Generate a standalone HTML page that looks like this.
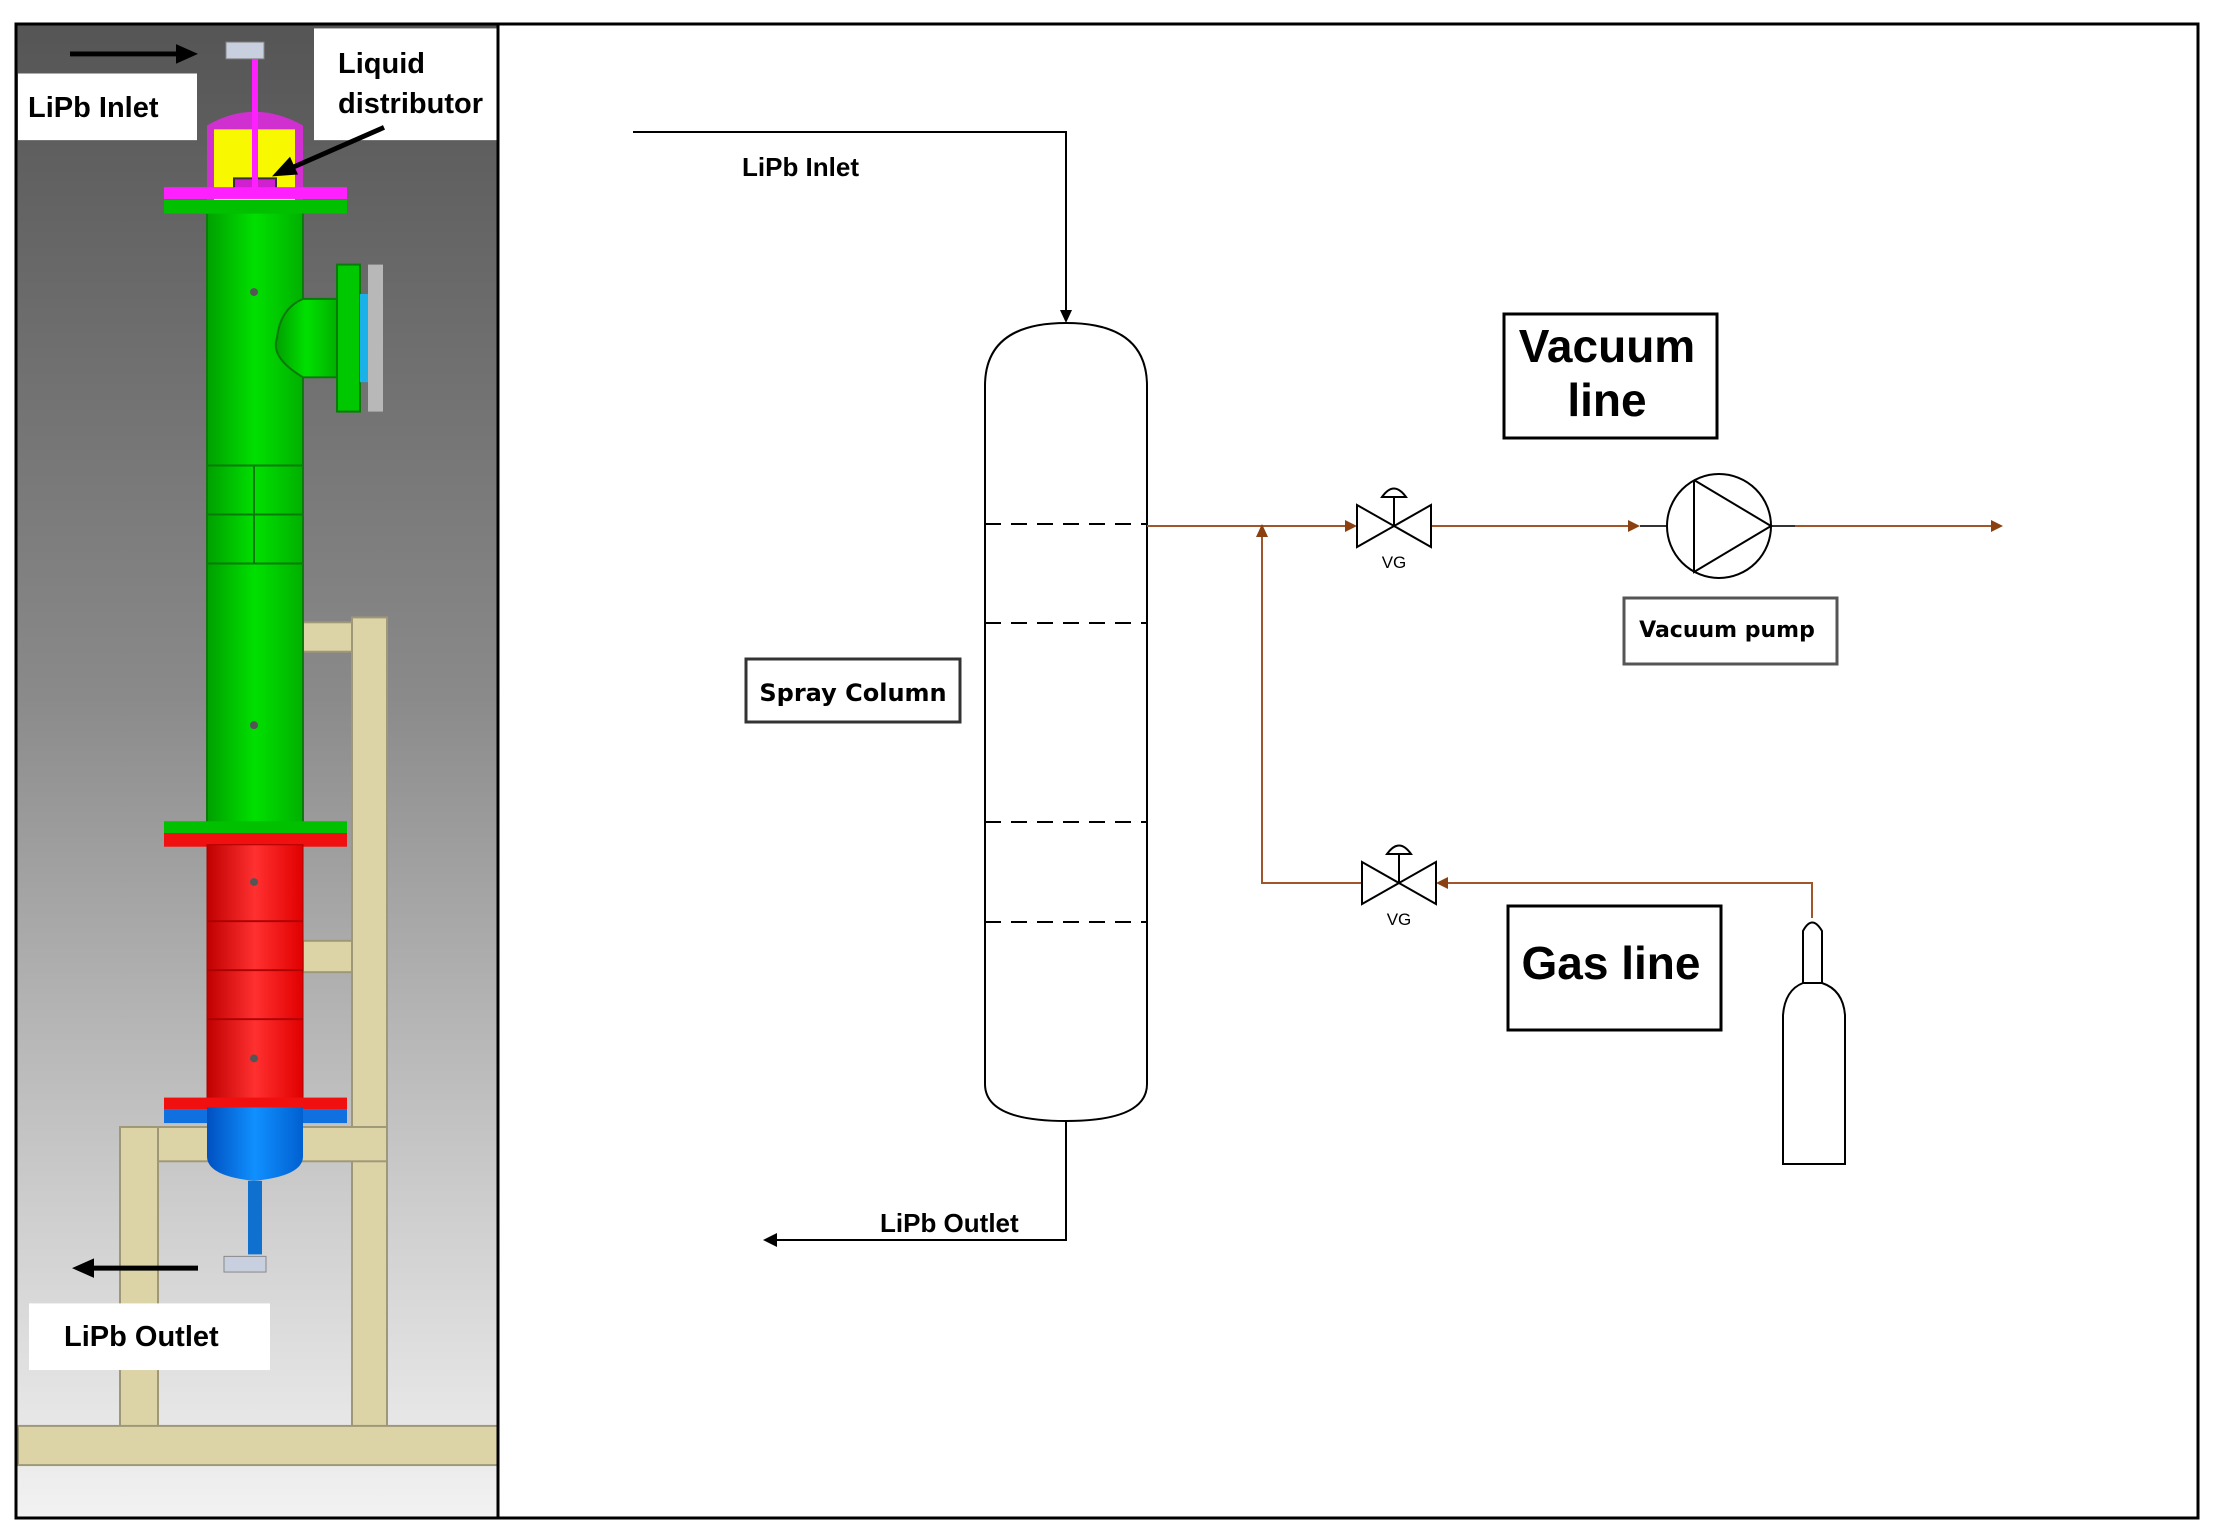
<!DOCTYPE html>
<html><head><meta charset="utf-8"><style>
html,body{margin:0;padding:0;background:#fff;width:2219px;height:1536px;overflow:hidden}
svg{display:block}
</style></head><body>
<svg width="2219" height="1536" viewBox="0 0 2219 1536" xmlns="http://www.w3.org/2000/svg">
<defs>
<linearGradient id="bg" x1="0" y1="0" x2="0" y2="1">
<stop offset="0" stop-color="#555"/><stop offset="0.45" stop-color="#8a8a8a"/><stop offset="0.8" stop-color="#cfcfcf"/><stop offset="1" stop-color="#f2f2f2"/></linearGradient>
<linearGradient id="gr" x1="0" y1="0" x2="1" y2="0"><stop offset="0" stop-color="#00a000"/><stop offset="0.5" stop-color="#00e000"/><stop offset="1" stop-color="#00b000"/></linearGradient>
<linearGradient id="rd" x1="0" y1="0" x2="1" y2="0"><stop offset="0" stop-color="#c00000"/><stop offset="0.5" stop-color="#ff3030"/><stop offset="1" stop-color="#e00000"/></linearGradient>
<linearGradient id="bl" x1="0" y1="0" x2="1" y2="0"><stop offset="0" stop-color="#0050c0"/><stop offset="0.5" stop-color="#1090ff"/><stop offset="1" stop-color="#0060d0"/></linearGradient>
</defs>
<rect x="16" y="24" width="482" height="1494" fill="url(#bg)"/>
<g transform="scale(1,0.98)">
<g fill="#dcd3a6" stroke="#9f9878" stroke-width="2">
<rect x="352" y="630" width="35" height="860"/>
<rect x="303" y="635" width="49" height="30"/>
<rect x="303" y="960" width="49" height="32"/>
<rect x="120" y="1150" width="267" height="35"/>
<rect x="120" y="1150" width="38" height="340"/>
<rect x="18" y="1455" width="480" height="40"/>
</g>
<rect x="207" y="215" width="96" height="635" fill="url(#gr)" stroke="#0a7a0a" stroke-width="2"/>
<line x1="207" y1="475" x2="303" y2="475" stroke="#0a7a0a" stroke-width="2"/>
<line x1="207" y1="525" x2="303" y2="525" stroke="#0a7a0a" stroke-width="2"/>
<line x1="207" y1="575" x2="303" y2="575" stroke="#0a7a0a" stroke-width="2"/>
<line x1="254" y1="475" x2="254" y2="575" stroke="#0a7a0a" stroke-width="2"/>
<circle cx="254" cy="298" r="4" fill="#555"/><circle cx="254" cy="740" r="4" fill="#555"/>
<path d="M303 305 H337 V385 H303 Q270 365 277 345 Q280 315 303 305Z" fill="url(#gr)" stroke="#0a7a0a" stroke-width="2"/>
<rect x="337" y="270" width="23" height="150" fill="#00c800" stroke="#0a7a0a" stroke-width="2"/>
<rect x="360" y="300" width="8" height="90" fill="#1ab0e8"/>
<rect x="368" y="270" width="15" height="150" fill="#b8b8b8"/>
<path d="M207 215 V128 Q254 100 303 128 V215Z" fill="#d030d0"/>
<rect x="214" y="132" width="81" height="83" fill="#f8f800"/>
<rect x="234" y="182" width="42" height="18" fill="#d020d0" stroke="#333" stroke-width="2"/>
<rect x="252" y="60" width="6" height="132" fill="#ff20ff"/>
<rect x="226" y="43" width="38" height="17" fill="#c8d0e0" stroke="#888"/>
<rect x="164" y="191" width="183" height="12" fill="#ff20ff"/>
<rect x="164" y="204" width="183" height="14" fill="#00c000"/>
<rect x="164" y="838" width="183" height="12" fill="#00c000"/>
<rect x="164" y="850" width="183" height="14" fill="#f01010"/>
<rect x="207" y="862" width="96" height="268" fill="url(#rd)" stroke="#a00" stroke-width="1"/>
<line x1="207" y1="940" x2="303" y2="940" stroke="#a00" stroke-width="2"/>
<line x1="207" y1="990" x2="303" y2="990" stroke="#a00" stroke-width="2"/>
<line x1="207" y1="1040" x2="303" y2="1040" stroke="#a00" stroke-width="2"/>
<circle cx="254" cy="900" r="4" fill="#555"/><circle cx="254" cy="1080" r="4" fill="#555"/>
<rect x="164" y="1120" width="183" height="12" fill="#f01010"/>
<rect x="164" y="1132" width="183" height="14" fill="#1070e0"/>
<path d="M207 1130 H303 V1180 Q303 1200 254 1205 Q207 1200 207 1180Z" fill="url(#bl)"/>
<rect x="248" y="1205" width="14" height="75" fill="#1070d0"/>
<rect x="224" y="1282" width="42" height="16" fill="#c8d0e0" stroke="#888"/>
<line x1="70" y1="55" x2="180" y2="55" stroke="#000" stroke-width="5"/>
<polygon points="176,45 198,55 176,65" fill="#000"/>
<rect x="18" y="75" width="179" height="68" fill="#fff"/>
<rect x="314" y="29" width="184" height="114" fill="#fff"/>
<line x1="384" y1="130" x2="290" y2="172" stroke="#000" stroke-width="5"/>
<polygon points="272,180 290,160 298,178" fill="#000"/>
<line x1="92" y1="1294" x2="198" y2="1294" stroke="#000" stroke-width="5"/>
<polygon points="72,1294 94,1284 94,1304" fill="#000"/>
<rect x="29" y="1330" width="241" height="68" fill="#fff"/>
</g>
<g font-family="Liberation Sans, sans-serif" font-weight="bold" font-size="29">
<text x="28" y="117">LiPb Inlet</text>
<text x="338" y="73">Liquid</text>
<text x="338" y="113">distributor</text>
<text x="64" y="1346">LiPb Outlet</text>
</g>
<rect x="16" y="24" width="2182" height="1494" fill="none" stroke="#000" stroke-width="3"/>
<line x1="498" y1="24" x2="498" y2="1518" stroke="#000" stroke-width="3"/>

<g font-family="Liberation Sans, sans-serif">
<polyline points="633,132 1066,132 1066,312" fill="none" stroke="#000" stroke-width="2"/>
<polygon points="1060,310 1072,310 1066,323" fill="#000"/>
<text x="742" y="176" font-size="26" font-weight="bold">LiPb Inlet</text>
<path d="M985 386 Q985 323 1066 323 Q1147 323 1147 386 V1084 Q1147 1121 1066 1121 Q985 1121 985 1084Z" fill="none" stroke="#000" stroke-width="2"/>
<g stroke="#000" stroke-width="2" stroke-dasharray="16,10">
<line x1="985" y1="524" x2="1147" y2="524"/>
<line x1="985" y1="623" x2="1147" y2="623"/>
<line x1="985" y1="822" x2="1147" y2="822"/>
<line x1="985" y1="922" x2="1147" y2="922"/>
</g>
<polyline points="1066,1121 1066,1240 776,1240" fill="none" stroke="#000" stroke-width="2"/>
<polygon points="763,1240 777,1233 777,1247" fill="#000"/>
<text x="880" y="1232" font-size="26" font-weight="bold">LiPb Outlet</text>
<rect x="746" y="659" width="214" height="63" fill="none" stroke="#333" stroke-width="3"/>
<text x="853" y="701" font-family="DejaVu Sans, sans-serif" font-size="24" font-weight="bold" text-anchor="middle">Spray Column</text>
<g stroke="#a0562a" stroke-width="2" fill="none">
<line x1="1147" y1="526" x2="1347" y2="526"/>
<line x1="1431" y1="526" x2="1628" y2="526"/>
<line x1="1795" y1="526" x2="2000" y2="526"/>
<polyline points="1262,536 1262,883 1362,883"/>
<polyline points="1446,883 1812,883 1812,918"/>
</g>
<g fill="#8a4010">
<polygon points="1357,526 1345,520 1345,532"/>
<polygon points="1640,526 1628,520 1628,532"/>
<polygon points="2003,526 1991,520 1991,532"/>
<polygon points="1262,524 1256,537 1268,537"/>
<polygon points="1436,883 1448,877 1448,889"/>
</g>
<g stroke="#000" stroke-width="2" fill="#fff">
<polygon points="1357,505 1431,547 1431,505 1357,547"/>
<line x1="1394" y1="526" x2="1394" y2="497"/>
<path d="M1382 497 Q1394 480 1406 497Z"/>
<polygon points="1362,862 1436,904 1436,862 1362,904"/>
<line x1="1399" y1="883" x2="1399" y2="854"/>
<path d="M1387 854 Q1399 837 1411 854Z"/>
</g>
<text x="1394" y="568" font-size="17" text-anchor="middle">VG</text>
<text x="1399" y="925" font-size="17" text-anchor="middle">VG</text>
<line x1="1640" y1="526" x2="1667" y2="526" stroke="#333" stroke-width="2"/>
<line x1="1771" y1="526" x2="1795" y2="526" stroke="#333" stroke-width="2"/>
<ellipse cx="1719" cy="526" rx="52" ry="52" fill="none" stroke="#000" stroke-width="2"/>
<polyline points="1694,480 1771,526 1694,572 1694,480" fill="none" stroke="#000" stroke-width="2"/>
<rect x="1504" y="314" width="213" height="124" fill="none" stroke="#000" stroke-width="3"/>
<text x="1607" y="362" font-size="46" font-weight="bold" text-anchor="middle">Vacuum</text>
<text x="1607" y="416" font-size="46" font-weight="bold" text-anchor="middle">line</text>
<rect x="1624" y="598" width="213" height="66" fill="none" stroke="#555" stroke-width="3"/>
<text x="1727" y="637" font-family="DejaVu Sans, sans-serif" font-size="22" font-weight="bold" text-anchor="middle">Vacuum pump</text>
<rect x="1508" y="906" width="213" height="124" fill="none" stroke="#000" stroke-width="3"/>
<text x="1611" y="979" font-size="46" font-weight="bold" text-anchor="middle">Gas line</text>
<path d="M1803 983 V931 Q1812 914 1822 931 V983 Z" fill="#fff" stroke="#000" stroke-width="2"/>
<path d="M1783 1164 V1015 Q1785 990 1803 983 H1822 Q1843 990 1845 1015 V1164 Z" fill="#fff" stroke="#000" stroke-width="2"/>
</g>
</svg>
</body></html>
